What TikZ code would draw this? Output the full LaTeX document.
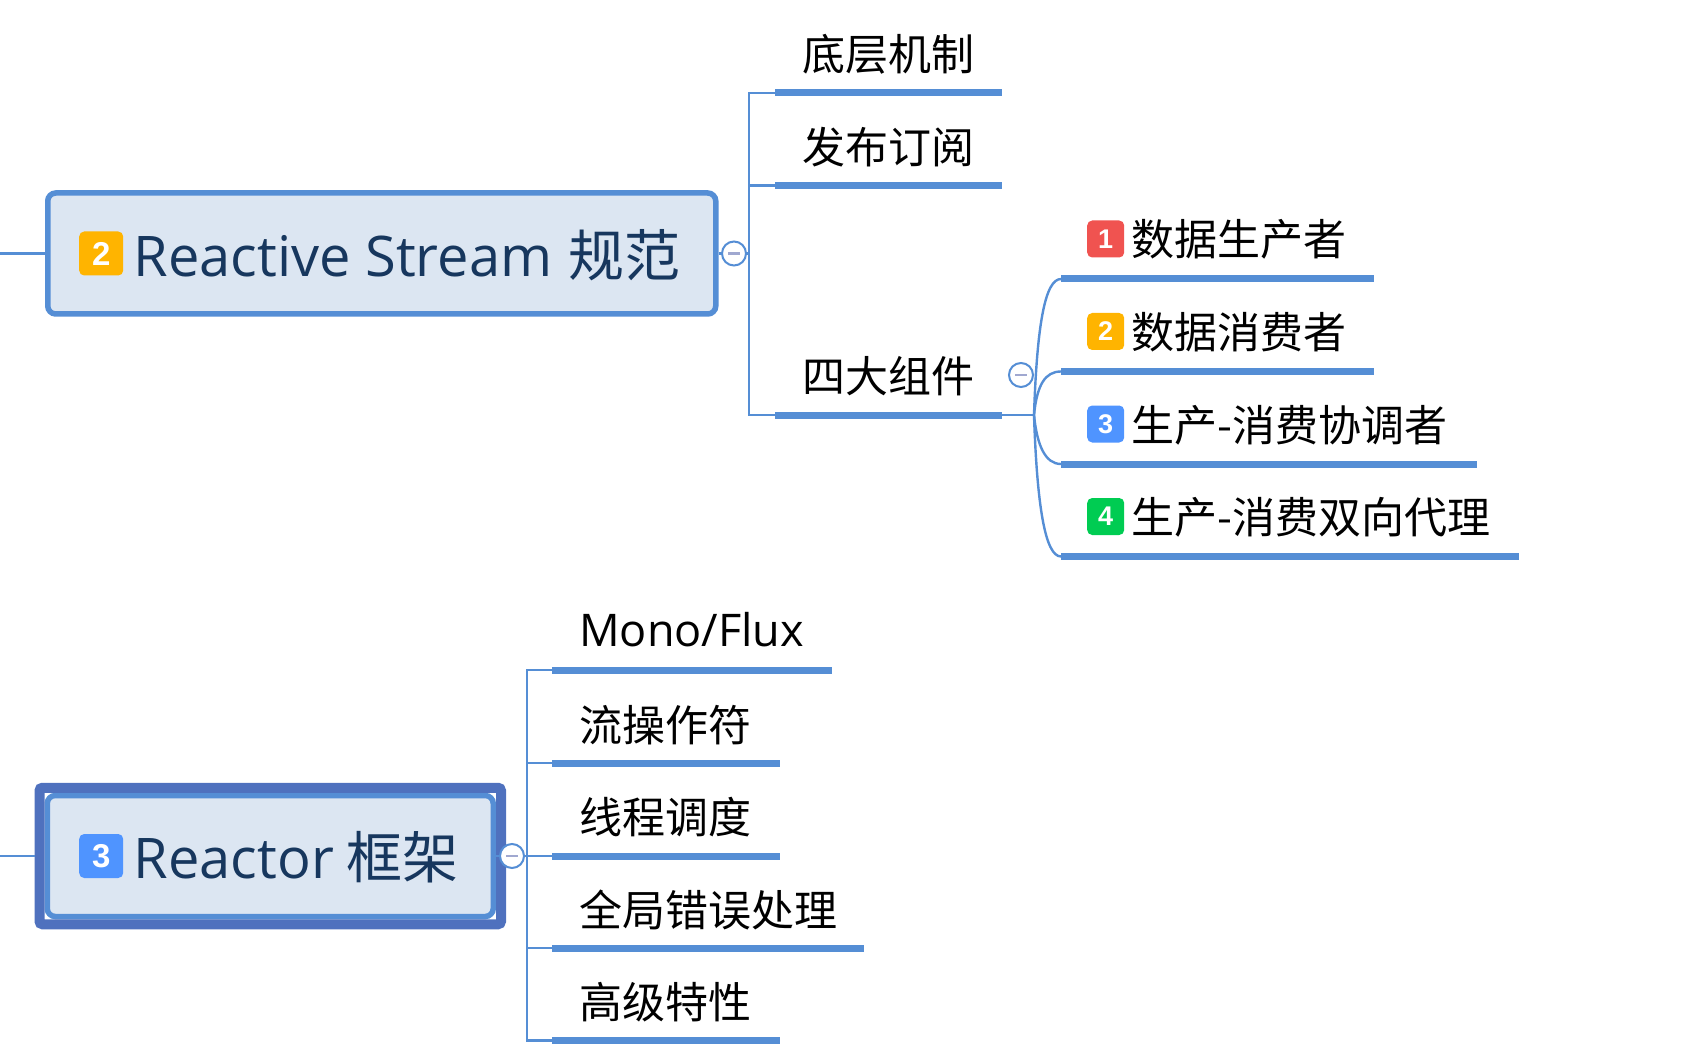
\documentclass[tikz,border=0pt]{standalone}
\usepackage{fontspec}
\setmainfont{Noto Sans CJK SC}
\newfontfamily\badgefont{Liberation Sans}
\newfontfamily\latinfont{Open Sans}
\usetikzlibrary{positioning, fit}
\definecolor{branch}{HTML}{558ED5}
\definecolor{framecol}{HTML}{4F71BE}
\definecolor{topicbg}{HTML}{DCE6F2}
\definecolor{topicink}{HTML}{17375E}
\definecolor{minusink}{HTML}{A0A8D0}
\definecolor{badgered}{HTML}{F05350}
\definecolor{badgeorange}{HTML}{FFB400}
\definecolor{badgeblue}{HTML}{4F94FF}
\definecolor{badgegreen}{HTML}{00CC52}

\begin{document}
\begin{tikzpicture}[
      x=1pt, y=-1pt,
      topic/.style={rectangle, rounded corners=8pt, draw=branch, fill=topicbg, line width=5.5pt,
                  minimum height=121pt, anchor=west},
      topictext/.style={inner sep=0pt, anchor=west, text=topicink, font=\fontsize{56}{60}\selectfont,
                  text height=50pt, text depth=4.6pt},
      bar/.style={rectangle, fill=branch, inner sep=0pt, minimum height=7pt, minimum width=#1, anchor=west},
      leaf/.style={inner sep=0pt, anchor=west, text=black, font=\fontsize{43}{48}\selectfont,
                  text height=38pt, text depth=4pt},
      badge/.style={rectangle, rounded corners=5pt, fill=#1, text=white, inner sep=0pt, minimum size=37pt,
                  font=\badgefont\bfseries\fontsize{27}{27}\selectfont, anchor=west},
      bigbadge/.style={badge=#1, minimum size=44pt, font=\badgefont\bfseries\fontsize{33}{33}\selectfont},
      link/.style={draw=branch, line width=2.4pt},
      collapse/.style={circle, draw=branch, fill=white, line width=2pt, inner sep=0pt, minimum size=24pt,
                  path picture={\draw[minusink, line width=2.2pt] ([xshift=-6pt]path picture bounding box.center)
                  -- ([xshift=6pt]path picture bounding box.center);}}
    ]
      \useasboundingbox (0,0) rectangle (1682,1059);

      % Reactive Stream
      \node[topic, minimum width=668pt] (stream) at (45,253.5) {};
      \node[bigbadge=badgeorange, right=34pt of stream.west, anchor=west] (streambadge) {2};
      \node[topictext, right=10pt of streambadge] (streamtext) {{\latinfont Reactive Stream}\hspace{4pt} 规范};
      \node[bar=227pt] (bottom) at (775,93) {};
      \node[bar=227pt, below=92.5pt of bottom.west, anchor=west] (pubsub) {};
      \node[bar=227pt, below=229.5pt of pubsub.west, anchor=west] (parts) {};
      \node[leaf, above right=39pt and 27pt of bottom.west, anchor=west] {底层机制};
      \node[leaf, above right=39pt and 27pt of pubsub.west, anchor=west] {发布订阅};
      \node[leaf, above right=40pt and 27pt of parts.west, anchor=west] {四大组件};

      % four parts
      \node[bar=313pt] (producer) at (1061,279) {};
      \node[bar=313pt, below=92.5pt of producer.west, anchor=west] (consumer) {};
      \node[bar=416pt, below=92.5pt of consumer.west, anchor=west] (coord) {};
      \node[bar=458pt, below=92.5pt of coord.west, anchor=west] (proxy) {};
      \node[badge=badgered, above right=40pt and 26pt of producer.west, anchor=west] (badgea) {1};
      \node[badge=badgeorange, above right=40pt and 26pt of consumer.west, anchor=west] (badgeb) {2};
      \node[badge=badgeblue, above right=40pt and 26pt of coord.west, anchor=west] (badgec) {3};
      \node[badge=badgegreen, above right=40pt and 26pt of proxy.west, anchor=west] (badged) {4};
      \node[leaf, right=7pt of badgea] {数据生产者};
      \node[leaf, right=7pt of badgeb] {数据消费者};
      \node[leaf, right=7pt of badgec] {生产-消费协调者};
      \node[leaf, right=7pt of badged] {生产-消费双向代理};

      % Reactor
      \node[topic, minimum width=446pt] (reactor) at (44.5,856) {};
      \node[draw=framecol, line width=10pt, rounded corners=3pt, inner sep=5pt, fit=(reactor)] (reactorframe) {};
      \node[bigbadge=badgeblue, right=34.5pt of reactor.west, anchor=west] (reactorbadge) {3};
      \node[topictext, right=10pt of reactorbadge] (reactortext) {{\latinfont Reactor} 框架};
      \node[bar=280pt] (mono) at (552,670) {};
      \node[bar=228pt, below=93pt of mono.west, anchor=west] (ops) {};
      \node[bar=228pt, below=93pt of ops.west, anchor=west] (sched) {};
      \node[bar=312pt, below=92pt of sched.west, anchor=west] (errors) {};
      \node[bar=228pt, below=92.5pt of errors.west, anchor=west] (advanced) {};
      \node[leaf, above right=41pt and 27pt of mono.west, anchor=west] {\latinfont\fontsize{45}{48}\selectfont Mono/Flux};
      \node[leaf, above right=39pt and 27pt of ops.west, anchor=west] {流操作符};
      \node[leaf, above right=40pt and 27pt of sched.west, anchor=west] {线程调度};
      \node[leaf, above right=39pt and 27pt of errors.west, anchor=west] {全局错误处理};
      \node[leaf, above right=39pt and 27pt of advanced.west, anchor=west] {高级特性};

      % connectors
      \coordinate (streamin) at (0,253.5);
      \coordinate (streamtrunk) at (749,253.5);
      \coordinate (partshub) at (1034,415);
      \coordinate (reactorin) at (0,856);
      \coordinate (reactortrunk) at (527,856);
      \draw[link] (streamin) -- (stream.west);
      \draw[link] (stream.east) -- (streamtrunk);
      \draw[link] (streamtrunk) |- (bottom.west);
      \draw[link] (streamtrunk) |- (pubsub.west);
      \draw[link] (streamtrunk) |- (parts.west);
      \draw[link] (parts.east) -- (partshub);
      \draw[link] (partshub) .. controls +(3,-90) and +(-16,0) .. (producer.west);
      \draw[link] (partshub) .. controls +(3,-30) and +(-16,0) .. (consumer.west);
      \draw[link] (partshub) .. controls +(3,30) and +(-16,0) .. (coord.west);
      \draw[link] (partshub) .. controls +(3,90) and +(-16,0) .. (proxy.west);
      \draw[link] (reactorin) -- (reactorframe.west);
      \draw[link] (reactor.east) -- (reactortrunk);
      \draw[link] (reactortrunk) |- (mono.west);
      \draw[link] (reactortrunk) |- (ops.west);
      \draw[link] (reactortrunk) |- (sched.west);
      \draw[link] (reactortrunk) |- (errors.west);
      \draw[link] (reactortrunk) |- (advanced.west);

      \node[collapse] (streamfold) at (734,253.5) {};
      \node[collapse] (partsfold) at (1021,375) {};
      \node[collapse] (reactorfold) at (512,856) {};
    \end{tikzpicture}
\end{document}
